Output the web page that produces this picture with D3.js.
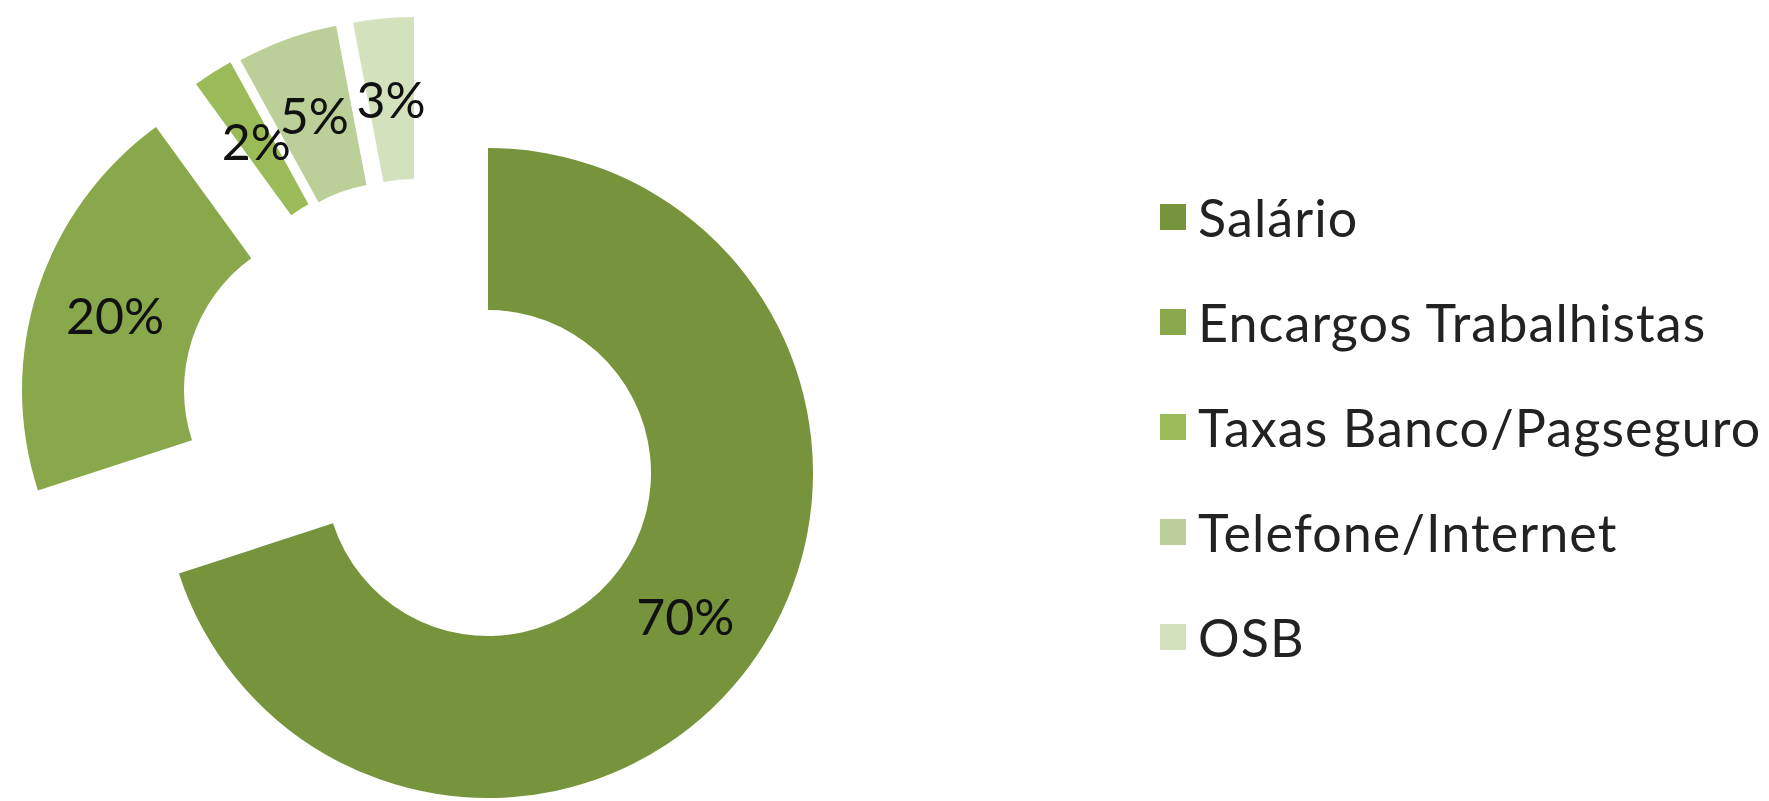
<!DOCTYPE html>
<html>
<head>
<meta charset="utf-8">
<script src="https://cdn.jsdelivr.net/npm/d3@7"></script>
<style>
    body { margin: 0; background: #fff; }
    svg { display: block; }
    text { font-family: Lato, 'Open Sans', sans-serif; }
</style>
</head>
<body>
<svg width="1769" height="801"></svg>
<script>
// chart data
let categories = ['Salário', 'Encargos Trabalhistas', 'Taxas Banco/Pagseguro', 'Telefone/Internet', 'OSB']
let values = [70, 20, 2, 5, 3]
let colors = ['#77933c', '#89a84c', '#9bbb59', '#bccf98', '#d4e1bd']

// how far each slice is pulled out of the ring (px)
let explodeX = [0, -141, -101, -91, -74]
let explodeY = [0, -83, -126, -128, -131]

let width = 1769
let height = 801
let cx = 488
let cy = 473
let outerR = 325
let innerR = 163

let svg = d3.select('svg')

let total = d3.sum(values)
let pie = d3.pie().sort(null).value((d) => d.value)
let arc = d3.arc().innerRadius(innerR).outerRadius(outerR)

let rows = categories.map((c, i) => {
    return { name: c, value: values[i], color: colors[i], dx: explodeX[i], dy: explodeY[i] }
})

let drawDonut = () => {
    let slices = svg.append('g')
        .attr('transform', 'translate(' + cx + ',' + cy + ')')
        .selectAll('g')
        .data(pie(rows))
        .enter()
        .append('g')
        .attr('transform', (d) => 'translate(' + d.data.dx + ',' + d.data.dy + ')')

    slices.append('path')
        .attr('d', arc)
        .attr('fill', (d) => d.data.color)

    slices.append('text')
        .attr('x', (d) => arc.centroid(d)[0])
        .attr('y', (d) => arc.centroid(d)[1])
        .attr('text-anchor', 'middle')
        .attr('dominant-baseline', 'central')
        .attr('font-size', 50)
        .attr('fill', '#111')
        .text((d) => Math.round(d.data.value / total * 100) + '%')
}

let drawLegend = () => {
    let y = d3.scalePoint()
        .domain(categories)
        .range([217, 637])

    let items = svg.append('g')
        .selectAll('g')
        .data(rows)
        .enter()
        .append('g')
        .attr('transform', (d) => 'translate(1160,' + y(d.name) + ')')

    items.append('rect')
        .attr('x', 0)
        .attr('y', -13)
        .attr('width', 26)
        .attr('height', 26)
        .attr('fill', (d) => d.color)

    items.append('text')
        .attr('x', 38)
        .attr('y', 0)
        .attr('dominant-baseline', 'central')
        .attr('font-size', 52)
        .attr('letter-spacing', 1.1)
        .attr('fill', '#222')
        .text((d) => d.name)
}

drawDonut()
drawLegend()
</script>
</body>
</html>
